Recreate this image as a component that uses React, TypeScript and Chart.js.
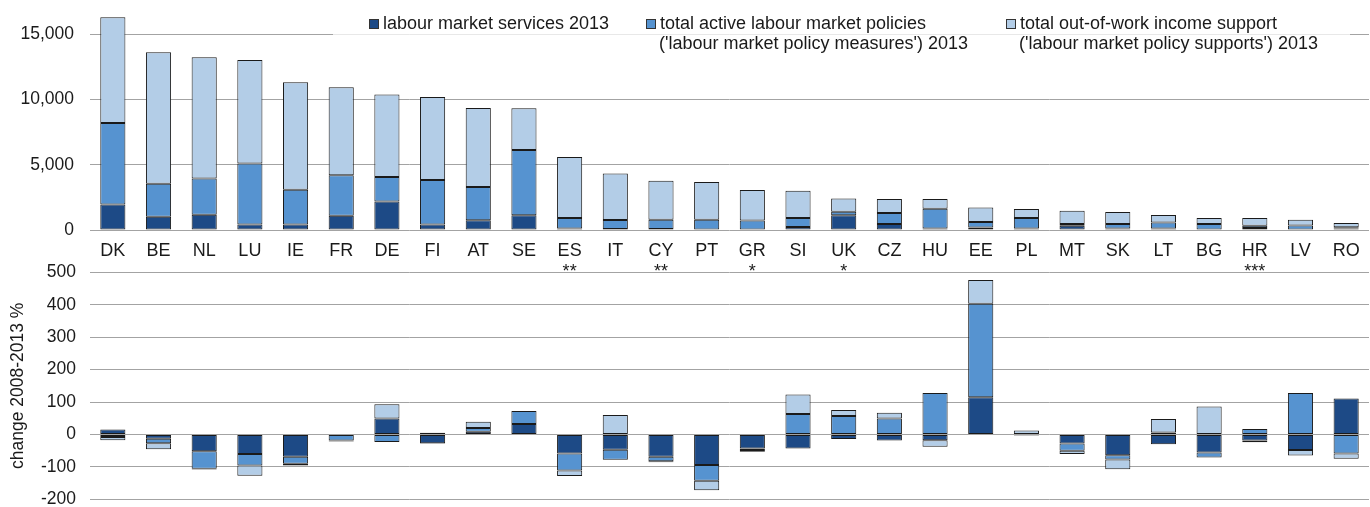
import React, { useEffect, useRef } from "react";
import { Chart, registerables } from "chart.js";

Chart.register(...registerables);

// ---------- DATA ----------
const countries = ["DK", "BE", "NL", "LU", "IE", "FR", "DE", "FI", "AT", "SE", "ES", "IT", "CY", "PT", "GR", "SI", "UK", "CZ", "HU", "EE", "PL", "MT", "SK", "LT", "BG", "HR", "LV", "RO"];
const footnotes = ["", "", "", "", "", "", "", "", "", "", "**", "", "**", "", "*", "", "*", "", "", "", "", "", "", "", "", "***", "", ""];

// 2013 levels (stacked segments)
const services2013 = [1950, 1020, 1170, 420, 420, 1100, 2190, 420, 740, 1120, 120, 80, 80, 40, 30, 230, 1120, 460, 120, 200, 122, 329, 122, 122, 30, 150, 30, 122];
const measures2013 = [6250, 2520, 2775, 4670, 2660, 3100, 1860, 3400, 2550, 5000, 800, 690, 710, 750, 700, 690, 280, 840, 1510, 410, 795, 130, 340, 460, 430, 180, 320, 80];
const supports2013 = [8080, 10070, 9280, 7930, 8230, 6730, 6320, 6370, 6060, 3210, 4660, 3560, 2980, 2880, 2330, 2090, 1020, 1070, 740, 1120, 690, 1020, 920, 565, 460, 590, 435, 335];
const topTicks = [0, 5000, 10000, 15000];

// change 2008-2013 %
const servicesChange = [15, -13, -52, -60, -69, -2, 49, -27, 8, 32, -59, -47, -69, -94, -43, -43, -14, -19, -18, 115, -2, -28, -64, -30, -56, -19, -48, 111];
const measuresChange = [-8, -14, -54, -36, -21, -17, -23, -2, 12, 40, -52, -31, -14, -49, -5, 63, 57, 49, 128, 288, -1, -22, -13, 6, -15, 17, 128, -59];
const supportsChange = [-10, -19, -2, -31, -6, -3, 44, 5, 19, 0, -17, 60, -3, -29, -5, 60, 18, 18, -20, 73, 12, -10, -30, 42, 86, -5, -17, -16];
const bottomTicks = [-200, -100, 0, 100, 200, 300, 400, 500];

const seriesNames = ["labour market services 2013", "total active labour market policies", "total out-of-work income support"];
const seriesSubNames = ["", "('labour market policy measures') 2013", "('labour market policy supports') 2013"];
const yTitleBottom = "change 2008-2013 %";

// ---------- STYLE ----------
const FONT = "'Liberation Sans', Arial, sans-serif";
const COLORS = ["#1d4a86", "#5693d0", "#b3cde7"];
const BORDER = "#1a1a1a";
const GRID = "#a3a3a3";
const TEXT = "#1a1a1a";

const labels = countries.map((c, i) => (footnotes[i] ? [c, footnotes[i]] : c));

function makeDatasets(values: number[][]) {
  return values.map((v, i) => ({
    label: seriesNames[i],
    data: v,
    backgroundColor: COLORS[i],
    borderColor: BORDER,
    borderWidth: 1,
    borderSkipped: false as const,
    barPercentage: 0.55,
    categoryPercentage: 1,
  }));
}

const fitY = (s: any) => {
  s.width = 90;
  s.paddingTop = 0;
  s.paddingBottom = 0;
};

const legendPlugin = {
  id: "customLegend",
  afterDraw(chart: any) {
    const ctx = chart.ctx;
    ctx.save();
    ctx.fillStyle = "rgba(255,255,255,0.75)";
    ctx.fillRect(333, 8, 1017, 48);
    const xs = [369, 646, 1006];
    ctx.font = `18px ${FONT}`;
    ctx.textBaseline = "middle";
    ctx.textAlign = "left";
    xs.forEach((x, i) => {
      ctx.fillStyle = COLORS[i];
      ctx.fillRect(x + 0.5, 19.5, 9, 9);
      ctx.strokeStyle = "#333";
      ctx.lineWidth = 1;
      ctx.strokeRect(x + 0.5, 19.5, 9, 9);
      ctx.fillStyle = TEXT;
      ctx.fillText(seriesNames[i], x + 14, 24);
      if (seriesSubNames[i]) ctx.fillText(seriesSubNames[i], x + 13, 44);
    });
    ctx.restore();
  },
};

export default function App() {
  const topRef = useRef<HTMLCanvasElement>(null);
  const botRef = useRef<HTMLCanvasElement>(null);

  useEffect(() => {
    const top = new Chart(topRef.current!, {
      type: "bar",
      data: { labels, datasets: makeDatasets([services2013, measures2013, supports2013]) },
      options: {
        animation: false,
        responsive: false,
        maintainAspectRatio: false,
        layout: { padding: { top: 14.5, right: 1, left: 0, bottom: 0 } },
        plugins: { legend: { display: false }, tooltip: { enabled: false } },
        scales: {
          x: {
            stacked: true,
            grid: { display: false, drawTicks: false },
            border: { display: false },
            ticks: { color: TEXT, font: { family: FONT, size: 18 }, padding: 10, maxRotation: 0, autoSkip: false },
            afterFit: (s: any) => { s.height = 50; },
          },
          y: {
            stacked: true,
            min: 0,
            max: 16500,
            afterBuildTicks: (s: any) => { s.ticks = topTicks.map((value) => ({ value })); },
            ticks: {
              padding: 16,
              color: TEXT,
              font: { family: FONT, size: 17.5 },
              callback: (v: any) => Number(v).toLocaleString("en-US"),
            },
            grid: { color: GRID, drawTicks: false, lineWidth: 1 },
            border: { display: false },
            afterFit: fitY,
          },
        },
      },
      plugins: [legendPlugin],
    } as any);

    const bot = new Chart(botRef.current!, {
      type: "bar",
      data: { labels, datasets: makeDatasets([servicesChange, measuresChange, supportsChange]) },
      options: {
        animation: false,
        responsive: false,
        maintainAspectRatio: false,
        layout: { padding: { top: 14.3, right: 1, left: 0, bottom: 16.7 } },
        plugins: { legend: { display: false }, tooltip: { enabled: false } },
        scales: {
          x: { stacked: true, display: false },
          y: {
            stacked: true,
            min: -200,
            max: 500,
            afterBuildTicks: (s: any) => { s.ticks = bottomTicks.map((value) => ({ value })); },
            ticks: { padding: 14, color: TEXT, font: { family: FONT, size: 17.5 } },
            grid: { color: GRID, drawTicks: false, lineWidth: 1 },
            border: { display: false },
            title: { display: true, text: yTitleBottom, color: TEXT, font: { family: FONT, size: 17.5 }, padding: { top: 8, bottom: 0 } },
            afterFit: fitY,
          },
        },
      },
    } as any);

    return () => {
      top.destroy();
      bot.destroy();
    };
  }, []);

  return (
    <div style={{ position: "absolute", left: 0, top: 0, width: 1370, height: 507, overflow: "hidden", background: "#fff" }}>
      <canvas ref={topRef} width={1370} height={280} style={{ position: "absolute", left: 0, top: 0 }} />
      <canvas ref={botRef} width={1370} height={258} style={{ position: "absolute", left: 0, top: 258 }} />
    </div>
  );
}
